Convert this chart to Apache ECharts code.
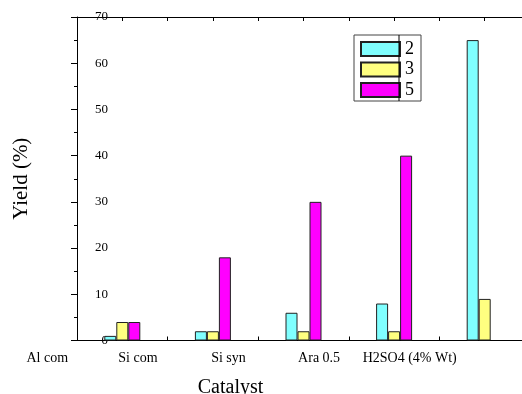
<!DOCTYPE html>
<html>
<head>
<meta charset="utf-8">
<script src="https://cdn.jsdelivr.net/npm/echarts@6/dist/echarts.min.js"></script>
<style>
  html, body { margin: 0; padding: 0; background: #fff; }
  #chart { width: 522px; height: 394px; }
</style>
</head>
<body>
<div id="chart"></div>
<script>
// catalyst labels as printed under the axis
const catalysts = ['Al com', 'Si com', 'Si syn', 'Ara 0.5', 'H2SO4 (4% Wt)']
const seriesNames = ['2', '3', '5']
const yield2 = [1, 2, 6, 8, 65]
const yield3 = [4, 2, 2, 2, 9]
const yield5 = [4, 18, 30, 40, null]
const colors = ['#80FFFF', '#FFFF80', '#FF00FF']

const font = 'Liberation Serif'
const chart = echarts.init(document.getElementById('chart'))

const makeBar = (name, data, color) => ({
  name: name,
  type: 'bar',
  data: data,
  barWidth: 12,
  barGap: '0%',
  itemStyle: { color: color, borderColor: '#222', borderWidth: 1 }
})

const option = {
  animation: false,
  textStyle: { fontFamily: font },
  grid: { left: 77, right: -8, top: 17, bottom: 53.5, outerBoundsMode: 'none', containLabel: false },
  legend: {
    orient: 'vertical',
    left: 360,
    top: 40,
    padding: 0,
    itemWidth: 39,
    itemHeight: 14,
    itemGap: 2.5,
    icon: 'rect',
    data: seriesNames,
    textStyle: { fontFamily: font, fontSize: 18, color: '#000' }
  },
  graphic: [
    { type: 'rect', shape: { x: 354, y: 35, width: 67, height: 66 }, style: { fill: 'none', stroke: '#444', lineWidth: 1 }, z: 100 },
    { type: 'line', shape: { x1: 399, y1: 35, x2: 399, y2: 101 }, style: { stroke: '#000', lineWidth: 1 }, z: 100 }
  ],
  xAxis: [
    {
      type: 'category',
      data: catalysts,
      position: 'bottom',
      name: 'Catalyst',
      nameLocation: 'middle',
      nameGap: 37,
      // grid runs past the right edge, so pull the name back left
      nameTextStyle: { fontFamily: font, fontSize: 20, color: '#000', padding: [0, 146, 0, 0] },
      axisLine: { lineStyle: { color: '#000', width: 1 } },
      axisTick: { alignWithLabel: true, length: 5, lineStyle: { color: '#000' } },
      axisLabel: {
        interval: 0,
        hideOverlap: false,
        fontFamily: font, fontSize: 14, color: '#000',
        margin: 11, padding: [0, 150, 0, 0]
      }
    },
    {
      type: 'value',
      min: 0, max: 10, interval: 2,
      position: 'bottom',
      axisLine: { show: false },
      axisTick: { show: true, inside: true, length: 4, lineStyle: { color: '#000' } },
      axisLabel: { show: false },
      splitLine: { show: false }
    },
    {
      type: 'value',
      min: 0, max: 10, interval: 1,
      position: 'top',
      axisLine: { show: true, lineStyle: { color: '#000', width: 1 } },
      axisTick: { show: true, inside: true, length: 4, lineStyle: { color: '#000' } },
      axisLabel: { show: false },
      splitLine: { show: false }
    }
  ],
  yAxis: {
    type: 'value',
    min: 0, max: 70, interval: 10,
    name: 'Yield (%)',
    nameLocation: 'middle',
    nameGap: 45,
    nameTextStyle: { fontFamily: font, fontSize: 21, color: '#000' },
    axisLine: { show: true, lineStyle: { color: '#000', width: 1 } },
    axisTick: { show: true, length: 6, lineStyle: { color: '#000' } },
    minorTick: { show: true, splitNumber: 2, length: 3, lineStyle: { color: '#000' } },
    axisLabel: { inside: true, align: 'right', margin: 31, fontFamily: font, fontSize: 13, color: '#000' },
    splitLine: { show: false }
  },
  series: [
    makeBar(seriesNames[0], yield2, colors[0]),
    makeBar(seriesNames[1], yield3, colors[1]),
    makeBar(seriesNames[2], yield5, colors[2])
  ]
}

chart.setOption(option)
</script>
</body>
</html>
